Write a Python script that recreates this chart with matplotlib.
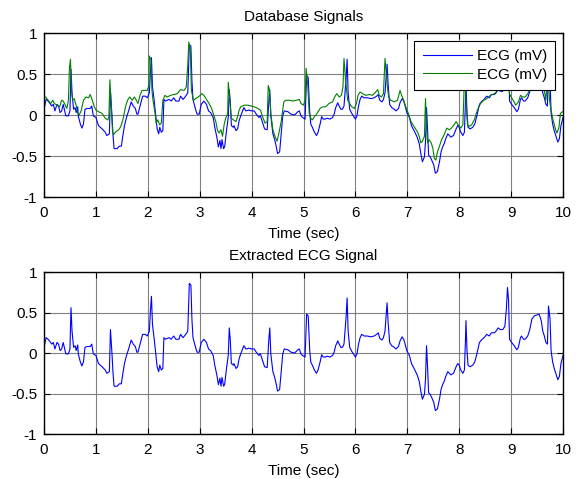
import numpy as np
import matplotlib
matplotlib.use("Agg")
import matplotlib.pyplot as plt

plt.rcParams['font.family'] = ['Liberation Sans', 'DejaVu Sans']
plt.rcParams['font.size'] = 11

# ECG lead 1 (extracted signal), time in seconds and amplitude in mV
t_ecg1 = [0.00, 0.04, 0.08, 0.15, 0.18, 0.21, 0.25, 0.28, 0.31, 0.34, 0.37, 0.42, 0.47, 0.50,
          0.52, 0.54, 0.57, 0.60, 0.62, 0.65, 0.66, 0.70, 0.73, 0.76, 0.79, 0.83, 0.89, 0.92,
          0.95, 1.00, 1.05, 1.12, 1.18, 1.21, 1.26, 1.28, 1.31, 1.33, 1.35, 1.41, 1.45, 1.49,
          1.52, 1.55, 1.59, 1.63, 1.68, 1.72, 1.76, 1.79, 1.81, 1.86, 1.90, 1.95, 1.99, 2.03,
          2.05, 2.07, 2.09, 2.12, 2.15, 2.18, 2.21, 2.23, 2.26, 2.29, 2.31, 2.34, 2.41, 2.45,
          2.50, 2.54, 2.60, 2.63, 2.68, 2.73, 2.77, 2.80, 2.83, 2.85, 2.87, 2.92, 2.95, 2.99,
          3.01, 3.03, 3.08, 3.13, 3.17, 3.21, 3.26, 3.29, 3.33, 3.36, 3.39, 3.41, 3.43, 3.46,
          3.48, 3.52, 3.55, 3.57, 3.59, 3.61, 3.65, 3.66, 3.70, 3.73, 3.76, 3.79, 3.85, 3.89,
          3.95, 4.00, 4.05, 4.09, 4.14, 4.17, 4.21, 4.25, 4.30, 4.33, 4.35, 4.37, 4.41, 4.44,
          4.47, 4.50, 4.54, 4.57, 4.60, 4.63, 4.70, 4.76, 4.83, 4.89, 4.92, 4.95, 4.98, 5.03,
          5.06, 5.09, 5.12, 5.14, 5.17, 5.21, 5.25, 5.28, 5.32, 5.35, 5.38, 5.41, 5.46, 5.51,
          5.56, 5.59, 5.62, 5.66, 5.67, 5.72, 5.75, 5.78, 5.82, 5.84, 5.86, 5.89, 5.93, 5.98,
          6.00, 6.03, 6.06, 6.09, 6.12, 6.17, 6.23, 6.30, 6.36, 6.41, 6.44, 6.47, 6.51, 6.54,
          6.57, 6.61, 6.63, 6.66, 6.70, 6.75, 6.78, 6.83, 6.86, 6.90, 6.93, 6.95, 6.99, 7.04,
          7.08, 7.13, 7.19, 7.23, 7.26, 7.29, 7.33, 7.35, 7.37, 7.39, 7.41, 7.44, 7.47, 7.51,
          7.54, 7.58, 7.62, 7.65, 7.68, 7.71, 7.74, 7.78, 7.81, 7.84, 7.89, 7.94, 7.97, 8.00,
          8.03, 8.07, 8.10, 8.12, 8.13, 8.15, 8.17, 8.21, 8.26, 8.30, 8.34, 8.39, 8.44, 8.48,
          8.53, 8.58, 8.62, 8.68, 8.71, 8.75, 8.79, 8.84, 8.88, 8.91, 8.93, 8.95, 8.97, 9.01,
          9.06, 9.11, 9.14, 9.18, 9.20, 9.24, 9.27, 9.32, 9.36, 9.40, 9.45, 9.50, 9.54, 9.58,
          9.61, 9.64, 9.67, 9.70, 9.72, 9.75, 9.77, 9.80, 9.83, 9.87, 9.90, 9.93, 9.96, 10.00]
v_ecg1 = [0.07, 0.19, 0.17, 0.11, 0.13, 0.05, 0.13, 0.11, 0.03, 0.05, 0.13, -0.01, -0.01, 0.05,
          0.56, 0.27, 0.07, 0.09, 0.03, 0.10, -0.01, -0.11, -0.16, -0.11, 0.07, 0.08, 0.08, 0.11,
          -0.01, -0.03, -0.13, -0.17, -0.21, -0.25, -0.23, 0.29, -0.01, -0.25, -0.41, -0.41, -0.38, -0.38,
          -0.25, -0.13, -0.03, 0.05, 0.16, 0.11, 0.08, 0.01, 0.01, 0.13, 0.23, 0.23, 0.21, 0.27,
          0.52, 0.70, 0.35, 0.19, 0.01, -0.17, -0.23, -0.15, -0.21, -0.19, 0.19, 0.17, 0.19, 0.17,
          0.21, 0.17, 0.17, 0.23, 0.19, 0.23, 0.27, 0.86, 0.84, 0.42, 0.19, 0.07, 0.01, 0.01,
          0.07, 0.13, 0.17, 0.13, 0.05, 0.03, -0.03, -0.15, -0.27, -0.39, -0.31, -0.41, -0.30, -0.41,
          -0.39, -0.17, -0.03, 0.31, 0.15, -0.13, -0.15, -0.13, -0.19, -0.17, -0.07, -0.01, 0.09, 0.05,
          0.06, 0.05, 0.05, 0.01, -0.03, -0.01, -0.09, -0.17, -0.18, 0.15, 0.31, -0.01, -0.23, -0.29,
          -0.37, -0.47, -0.45, -0.23, -0.01, 0.05, 0.04, 0.01, 0.00, 0.04, 0.05, -0.01, -0.03, -0.05,
          0.48, 0.46, 0.03, -0.11, -0.15, -0.21, -0.25, -0.21, -0.11, -0.02, -0.05, -0.05, -0.04, -0.05,
          -0.03, 0.01, 0.09, 0.15, 0.13, 0.07, 0.07, 0.11, 0.44, 0.68, 0.27, 0.07, 0.02, -0.03,
          -0.05, -0.01, 0.11, 0.19, 0.23, 0.21, 0.21, 0.20, 0.21, 0.23, 0.25, 0.18, 0.16, 0.19,
          0.27, 0.62, 0.38, 0.13, 0.09, 0.07, 0.05, 0.08, 0.15, 0.20, 0.17, 0.13, 0.03, -0.03,
          -0.13, -0.19, -0.27, -0.35, -0.47, -0.57, -0.51, -0.33, 0.09, -0.17, -0.49, -0.51, -0.55, -0.61,
          -0.71, -0.69, -0.57, -0.45, -0.39, -0.35, -0.29, -0.23, -0.25, -0.27, -0.25, -0.17, -0.13, -0.15,
          -0.21, -0.25, -0.21, 0.15, 0.40, 0.03, -0.15, -0.17, -0.15, -0.11, -0.01, 0.13, 0.17, 0.19,
          0.23, 0.21, 0.25, 0.25, 0.27, 0.31, 0.29, 0.29, 0.33, 0.56, 0.81, 0.66, 0.17, 0.13,
          0.09, 0.04, 0.07, 0.19, 0.21, 0.17, 0.17, 0.21, 0.29, 0.42, 0.46, 0.47, 0.48, 0.40,
          0.27, 0.21, 0.13, 0.11, 0.58, 0.42, 0.03, -0.11, -0.19, -0.27, -0.33, -0.29, -0.13, -0.03]

# ECG lead 2 from the database record
t_ecg2 = [0.00, 0.03, 0.08, 0.13, 0.17, 0.20, 0.25, 0.30, 0.34, 0.37, 0.41, 0.44, 0.47, 0.49,
          0.51, 0.53, 0.55, 0.58, 0.62, 0.65, 0.68, 0.72, 0.76, 0.81, 0.86, 0.89, 0.92, 0.97,
          1.00, 1.05, 1.12, 1.18, 1.23, 1.25, 1.27, 1.29, 1.32, 1.34, 1.39, 1.44, 1.48, 1.52,
          1.57, 1.61, 1.65, 1.70, 1.74, 1.78, 1.81, 1.85, 1.89, 1.94, 1.99, 2.02, 2.03, 2.06,
          2.08, 2.10, 2.14, 2.16, 2.19, 2.23, 2.26, 2.29, 2.33, 2.37, 2.44, 2.50, 2.57, 2.63,
          2.70, 2.74, 2.77, 2.79, 2.82, 2.84, 2.88, 2.92, 2.97, 3.01, 3.04, 3.08, 3.14, 3.18,
          3.23, 3.26, 3.31, 3.34, 3.37, 3.41, 3.44, 3.47, 3.50, 3.54, 3.55, 3.58, 3.61, 3.65,
          3.70, 3.73, 3.76, 3.79, 3.86, 3.92, 3.99, 4.05, 4.12, 4.17, 4.21, 4.26, 4.30, 4.32,
          4.34, 4.37, 4.41, 4.45, 4.49, 4.52, 4.57, 4.62, 4.66, 4.73, 4.79, 4.86, 4.92, 4.95,
          5.00, 5.03, 5.05, 5.08, 5.11, 5.14, 5.17, 5.21, 5.24, 5.28, 5.32, 5.37, 5.43, 5.49,
          5.56, 5.60, 5.64, 5.69, 5.73, 5.76, 5.78, 5.81, 5.85, 5.89, 5.93, 5.98, 6.02, 6.05,
          6.09, 6.14, 6.20, 6.27, 6.33, 6.39, 6.43, 6.46, 6.50, 6.54, 6.57, 6.61, 6.64, 6.68,
          6.75, 6.81, 6.86, 6.89, 6.93, 6.97, 7.02, 7.07, 7.13, 7.19, 7.23, 7.26, 7.29, 7.33,
          7.35, 7.37, 7.39, 7.42, 7.46, 7.49, 7.52, 7.55, 7.58, 7.62, 7.66, 7.71, 7.76, 7.81,
          7.85, 7.90, 7.94, 7.98, 8.03, 8.07, 8.09, 8.10, 8.13, 8.16, 8.19, 8.24, 8.29, 8.35,
          8.41, 8.47, 8.53, 8.60, 8.68, 8.74, 8.80, 8.87, 8.91, 8.92, 8.95, 8.97, 9.00, 9.04,
          9.09, 9.14, 9.18, 9.22, 9.27, 9.32, 9.37, 9.42, 9.48, 9.54, 9.58, 9.64, 9.67, 9.71,
          9.74, 9.77, 9.80, 9.85, 9.88, 9.92, 9.95, 9.99]
v_ecg2 = [0.20, 0.22, 0.18, 0.14, 0.18, 0.14, 0.12, 0.10, 0.18, 0.17, 0.12, 0.08, 0.18, 0.57,
          0.68, 0.30, 0.18, 0.20, 0.12, 0.02, 0.00, 0.06, 0.18, 0.22, 0.21, 0.25, 0.20, 0.10,
          0.06, 0.04, 0.02, -0.04, -0.06, -0.02, 0.43, 0.18, -0.20, -0.24, -0.20, -0.18, -0.14, -0.06,
          0.10, 0.18, 0.22, 0.18, 0.22, 0.18, 0.14, 0.24, 0.30, 0.30, 0.30, 0.36, 0.72, 0.67,
          0.30, 0.18, 0.02, -0.10, -0.06, -0.12, -0.10, 0.18, 0.24, 0.22, 0.24, 0.25, 0.26, 0.31,
          0.30, 0.34, 0.61, 0.89, 0.79, 0.30, 0.18, 0.20, 0.22, 0.24, 0.26, 0.24, 0.18, 0.14,
          0.08, 0.02, -0.08, -0.18, -0.22, -0.18, -0.26, -0.12, -0.04, 0.02, 0.40, 0.18, -0.04, -0.06,
          -0.08, -0.02, 0.06, 0.10, 0.12, 0.12, 0.11, 0.10, 0.08, 0.06, -0.02, -0.10, -0.08, 0.36,
          0.32, 0.02, -0.18, -0.26, -0.32, -0.24, -0.08, 0.16, 0.18, 0.18, 0.17, 0.18, 0.19, 0.14,
          0.12, 0.18, 0.57, 0.38, 0.02, -0.04, -0.06, -0.02, 0.00, 0.04, 0.08, 0.10, 0.10, 0.14,
          0.16, 0.22, 0.26, 0.22, 0.24, 0.34, 0.69, 0.43, 0.18, 0.14, 0.10, 0.08, 0.14, 0.24,
          0.28, 0.26, 0.24, 0.25, 0.24, 0.28, 0.31, 0.24, 0.22, 0.26, 0.69, 0.38, 0.22, 0.18,
          0.16, 0.18, 0.30, 0.24, 0.18, 0.10, 0.02, -0.08, -0.14, -0.20, -0.26, -0.34, -0.32, -0.26,
          0.20, -0.14, -0.34, -0.30, -0.34, -0.40, -0.53, -0.55, -0.45, -0.38, -0.30, -0.24, -0.16, -0.18,
          -0.16, -0.12, -0.08, -0.12, -0.16, -0.12, 0.24, 0.62, 0.18, -0.12, -0.14, -0.12, -0.06, 0.06,
          0.14, 0.18, 0.20, 0.24, 0.26, 0.30, 0.31, 0.31, 0.55, 0.78, 0.45, 0.26, 0.22, 0.18,
          0.12, 0.16, 0.24, 0.22, 0.22, 0.26, 0.32, 0.42, 0.46, 0.47, 0.40, 0.30, 0.18, 0.55,
          0.18, 0.06, -0.04, -0.16, -0.22, -0.16, 0.02, 0.04]

x_ticks = [0, 1, 2, 3, 4, 5, 6, 7, 8, 9, 10]
y_ticks = [-1, -0.5, 0, 0.5, 1]
y_tick_labels = ['-1', '-0.5', '0', '0.5', '1']

fig = plt.figure(figsize=(5.79, 4.79), dpi=100)
ax1 = fig.add_axes([0.076, 0.5887, 0.8964, 0.3424])
ax2 = fig.add_axes([0.076, 0.0939, 0.8964, 0.3382])


def style_axes(ax, title):
    ax.set_xlim(0, 10)
    ax.set_ylim(-1, 1)
    ax.set_xticks(x_ticks)
    ax.set_yticks(y_ticks)
    ax.set_yticklabels(y_tick_labels)
    ax.grid(True, color='0.5', linewidth=0.8, linestyle='-')
    ax.set_axisbelow(True)
    ax.tick_params(direction='in', top=True, right=True, length=4, width=0.8,
                   labelsize=11, pad=5)
    ax.tick_params(axis='x', pad=6.5)
    for sp in ax.spines.values():
        sp.set_linewidth(1.0)
        sp.set_color('black')
    ax.set_title(title, fontsize=11, pad=9)
    ax.set_xlabel('Time (sec)', fontsize=11, labelpad=5)


ax1.plot(t_ecg1, v_ecg1, color=(0, 0, 1), linewidth=0.8, label='ECG (mV)')
ax1.plot(t_ecg2, v_ecg2, color=(0, 0.5, 0), linewidth=0.8, label='ECG (mV)')
style_axes(ax1, 'Database Signals')
leg = ax1.legend(loc='upper right', fancybox=False, framealpha=1, edgecolor='black',
                 fontsize=11, handlelength=3.2, handletextpad=0.33, borderaxespad=0.5,
                 borderpad=0.55, labelspacing=0.3)
leg.get_frame().set_linewidth(0.8)

ax2.plot(t_ecg1, v_ecg1, color=(0, 0, 1), linewidth=0.8)
style_axes(ax2, 'Extracted ECG Signal')

fig.savefig('out.png', dpi=100)
